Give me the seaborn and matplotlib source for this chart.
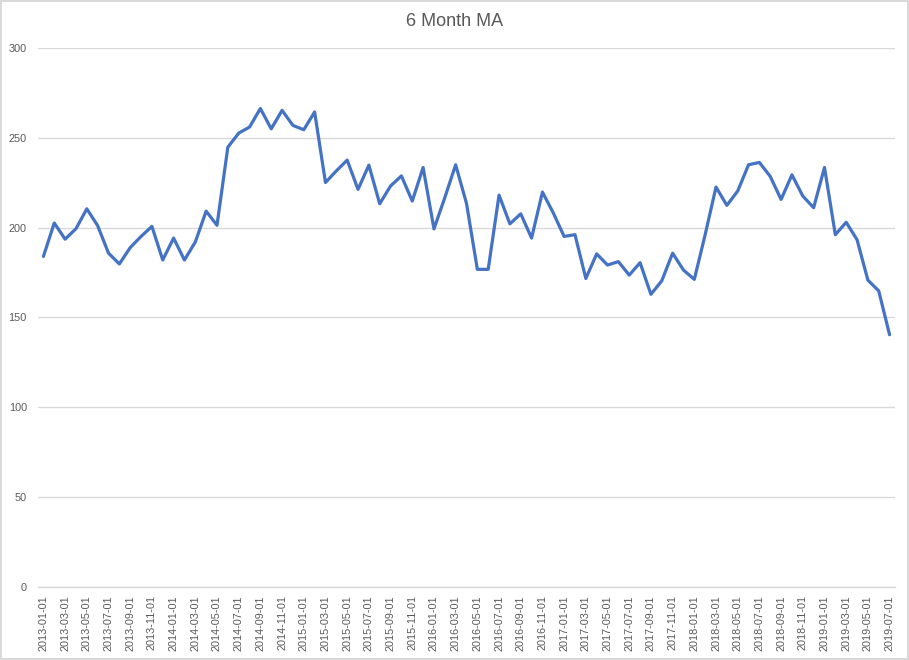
import matplotlib
matplotlib.use("Agg")
import matplotlib.pyplot as plt
import seaborn as sns
import pandas as pd
import numpy as np

# Monthly categories (2013-01 .. 2019-07)
months = pd.date_range("2013-01-01", periods=79, freq="MS").strftime("%Y-%m-%d").tolist()

# 6 Month MA values
ma_values = [
    184, 202.6, 193.6, 199.4, 210.5, 201.1, 185.8, 179.8, 188.9, 195.1,
    200.7, 182.0, 194.2, 182.0, 192.0, 209.2, 201.3, 244.8, 252.6, 256.0,
    266.3, 255.0, 265.3, 256.9, 254.5, 264.4, 225.1, 231.6, 237.6, 221.3,
    234.8, 213.3, 223.2, 228.8, 214.8, 233.5, 199.3, 216.7, 235.0, 213.5,
    176.8, 176.8, 218.1, 202.1, 207.7, 194.2, 219.8, 208.2, 195.1, 196.1,
    171.7, 185.4, 179.2, 181.1, 173.6, 180.5, 162.9, 170.4, 185.8, 176.4,
    171.2, 196.1, 222.6, 212.4, 220.4, 235.0, 236.3, 228.5, 215.7, 229.4,
    217.6, 211.1, 233.5, 196.1, 203.0, 193.3, 170.8, 164.8, 140.4,
]

title = "6 Month MA"
y_ticks = [0, 50, 100, 150, 200, 250, 300]

df = pd.DataFrame({"idx": range(len(months)), "month": months, "value": ma_values})

sns.set_theme(style="white")
plt.rcParams["font.family"] = ["Liberation Sans", "DejaVu Sans"]

fig = plt.figure(figsize=(9.09, 6.6), dpi=100)
fig.patch.set_facecolor("white")
fig.patch.set_edgecolor("#D9D9D9")
fig.patch.set_linewidth(1.5)
ax = fig.add_axes([0.0418, 0.1106, 0.9428, 0.8167])

sns.lineplot(data=df, x="idx", y="value", ax=ax, color="#4472C4", linewidth=2.3)

ax.set_xlim(-0.5, len(months) - 0.5)
ax.set_ylim(0, 300)
ax.set_yticks(y_ticks)
ax.set_yticklabels([str(t) for t in y_ticks])
xt = list(range(0, len(months), 2))
ax.set_xticks(xt)
ax.set_xticklabels([months[i] for i in xt], rotation=90)

ax.grid(axis="y", color="#D9D9D9", linewidth=1)
ax.grid(axis="x", visible=False)
for s in ["top", "right", "left"]:
    ax.spines[s].set_visible(False)
ax.spines["bottom"].set_color("#D9D9D9")
ax.spines["bottom"].set_linewidth(1)
ax.tick_params(axis="both", length=0, labelsize=7.8, labelcolor="#595959")
ax.tick_params(axis="y", pad=8)
ax.tick_params(axis="x", pad=6)
ax.set_xlabel("")
ax.set_ylabel("")
ax.set_axisbelow(True)

fig.text(0.5, 0.967, title, ha="center", va="center", fontsize=13, color="#595959")

fig.savefig("out.png", dpi=100, facecolor=fig.get_facecolor(), edgecolor=fig.get_edgecolor())
